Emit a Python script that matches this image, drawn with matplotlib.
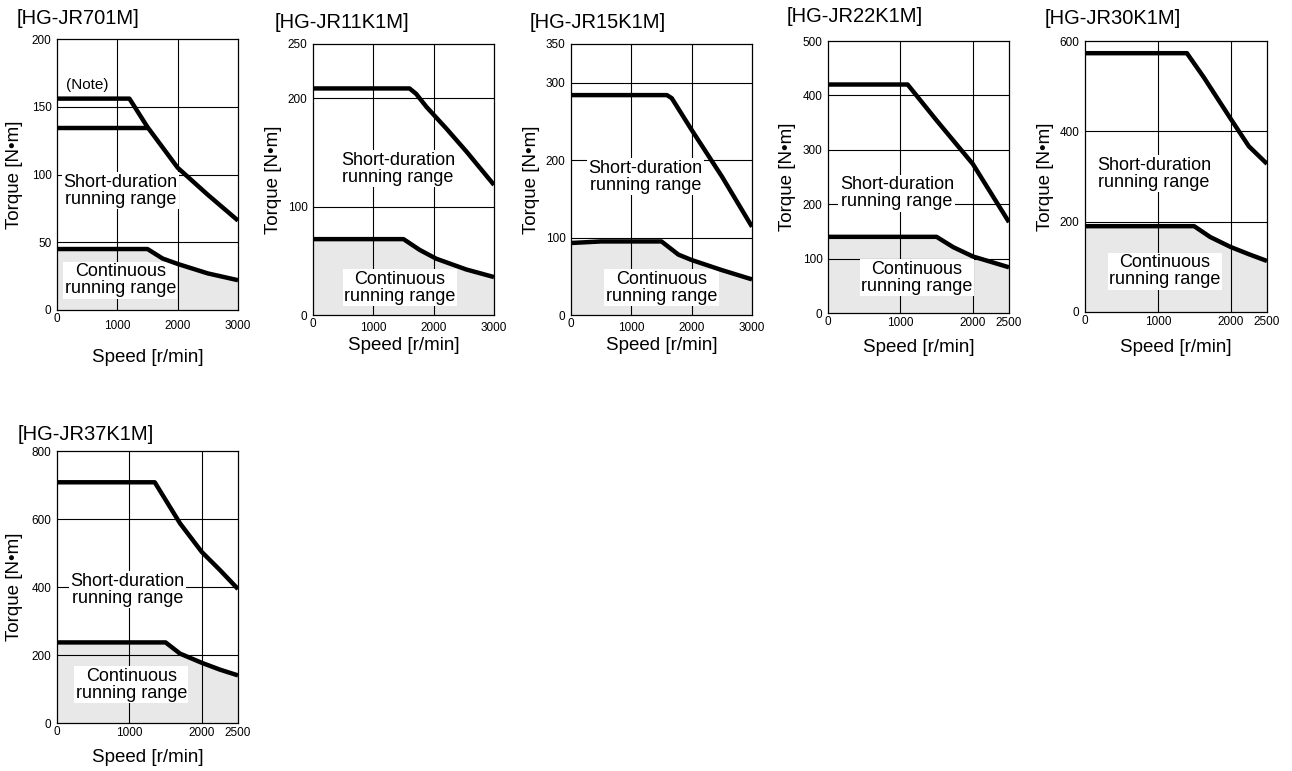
import matplotlib.pyplot as plt

plt.rcParams['font.family'] = ['Liberation Sans', 'DejaVu Sans']

W, H = 1292, 771

# ---- data (speed r/min, torque N*m) ----
titles = ['[HG-JR701M]', '[HG-JR11K1M]', '[HG-JR15K1M]',
          '[HG-JR22K1M]', '[HG-JR30K1M]', '[HG-JR37K1M]']

# HG-JR701M
short_701_x = [0, 1200, 1500, 2000, 2500, 3000]
short_701_y = [156, 156, 135, 105, 85, 66]
short2_701_x = [0, 1500]
short2_701_y = [134, 134]
cont_701_x = [0, 1500, 1750, 2000, 2500, 3000]
cont_701_y = [45, 45, 38, 34, 27, 22]

# HG-JR11K1M
short_11k_x = [0, 1600, 1710, 1880, 2210, 2540, 3000]
short_11k_y = [209, 209, 204, 192, 172, 151, 120]
cont_11k_x = [0, 1500, 1770, 2040, 2540, 3000]
cont_11k_y = [70, 70, 60, 52, 42, 35]

# HG-JR15K1M
short_15k_x = [0, 1590, 1670, 2000, 2500, 3000]
short_15k_y = [284, 284, 280, 239, 179, 114]
cont_15k_x = [0, 500, 1500, 1780, 2000, 2500, 3000]
cont_15k_y = [93, 95, 95, 78, 71, 58, 46]

# HG-JR22K1M
short_22k_x = [0, 1100, 1500, 2000, 2500]
short_22k_y = [420, 420, 354, 274, 167]
cont_22k_x = [0, 1500, 1730, 2000, 2500]
cont_22k_y = [140, 140, 121, 104, 84]

# HG-JR30K1M
short_30k_x = [0, 1400, 1630, 2000, 2250, 2500]
short_30k_y = [573, 573, 520, 428, 367, 328]
cont_30k_x = [0, 1500, 1720, 2000, 2250, 2500]
cont_30k_y = [190, 190, 166, 144, 128, 113]

# HG-JR37K1M
short_37k_x = [0, 1350, 1700, 2000, 2250, 2500]
short_37k_y = [708, 708, 587, 503, 450, 394]
cont_37k_x = [0, 1500, 1700, 2000, 2250, 2500]
cont_37k_y = [237, 237, 204, 177, 157, 140]

xmaxs = [3000, 3000, 3000, 2500, 2500, 2500]
yticks_list = [[0, 50, 100, 150, 200],
               [0, 100, 200, 250],
               [0, 100, 200, 300, 350],
               [0, 100, 200, 300, 400, 500],
               [0, 200, 400, 600],
               [0, 200, 400, 600, 800]]

shorts = [(short_701_x, short_701_y), (short_11k_x, short_11k_y),
          (short_15k_x, short_15k_y), (short_22k_x, short_22k_y),
          (short_30k_x, short_30k_y), (short_37k_x, short_37k_y)]
conts = [(cont_701_x, cont_701_y), (cont_11k_x, cont_11k_y),
         (cont_15k_x, cont_15k_y), (cont_22k_x, cont_22k_y),
         (cont_30k_x, cont_30k_y), (cont_37k_x, cont_37k_y)]

# ---- layout (pixels) ----
# axes box: left, right, top, bottom
boxes = [(57, 238, 39, 310), (313, 494, 44, 315), (571, 752, 44, 315),
         (828, 1009, 41, 313), (1085, 1267, 41, 312), (57, 238, 451, 723)]
title_pos = [(17, 18), (275, 22), (530, 22), (787, 17), (1045, 18), (18, 435)]
xlabel_off = [48, 30, 30, 35, 35, 35]
ylabel_off = [42, 40, 40, 40, 39, 42]
xtick_pad = [7, 5, 5, 3, 3, 3]
# label anchor (axes fraction) for the two range texts
short_txt = [(0.35, 0.44), (0.47, 0.54), (0.41, 0.51), (0.38, 0.44), (0.38, 0.51), (0.39, 0.49)]
cont_txt = [(0.35, 0.11), (0.48, 0.10), (0.50, 0.10), (0.49, 0.13), (0.44, 0.15), (0.41, 0.14)]

fig = plt.figure(figsize=(W / 100, H / 100), dpi=100)

for i in range(6):
    l, r, t, b = boxes[i]
    ax = fig.add_axes([l / W, 1 - b / H, (r - l) / W, (b - t) / H])
    xmax = xmaxs[i]
    yt = yticks_list[i]

    cx, cy = conts[i]
    sx, sy = shorts[i]
    ax.fill_between(cx, cy, 0, color='#e8e8e8', lw=0, zorder=0.5)
    ax.plot(sx, sy, color='black', lw=3.2, solid_capstyle='butt', zorder=4)
    ax.plot(cx, cy, color='black', lw=3.2, solid_capstyle='butt', zorder=4)
    if i == 0:
        ax.plot(short2_701_x, short2_701_y, color='black', lw=3.2,
                solid_capstyle='butt', zorder=4)
        ax.text(0.05, 0.83, '(Note)', transform=ax.transAxes, fontsize=11,
                ha='left', va='center', zorder=3)

    ax.set_xlim(0, xmax)
    ax.set_ylim(0, yt[-1])
    ax.set_xticks(list(range(0, xmax + 1, 1000)) + ([2500] if xmax == 2500 else []))
    ax.set_yticks(yt)
    for xv in range(1000, xmax, 1000):
        ax.axvline(xv, color='black', lw=0.8, zorder=1)
    for yv in yt[1:-1]:
        ax.axhline(yv, color='black', lw=0.8, zorder=1)
    ax.tick_params(length=0, labelsize=8.5)
    ax.tick_params(axis='x', pad=xtick_pad[i])
    ax.tick_params(axis='y', pad=4)
    # the corner "0" sits a little higher than the other speed labels
    ax.xaxis.get_major_ticks()[0].set_pad(2)
    for s in ax.spines.values():
        s.set_linewidth(0.9)

    bb = dict(boxstyle='square,pad=0.08', fc='white', ec='none')
    ax.text(*short_txt[i], 'Short-duration\nrunning range', transform=ax.transAxes,
            fontsize=13, ha='center', va='center', linespacing=1.0, bbox=bb, zorder=2)
    ax.text(*cont_txt[i], 'Continuous\nrunning range', transform=ax.transAxes,
            fontsize=13, ha='center', va='center', linespacing=1.0, bbox=bb, zorder=2)

    ax.set_xlabel('Speed [r/min]', fontsize=13.5)
    ax.set_ylabel('Torque [N•m]', fontsize=13.5)
    ax.xaxis.set_label_coords(0.5, -xlabel_off[i] / (b - t))
    ax.xaxis.label.set_va('center')
    ax.yaxis.set_label_coords(-ylabel_off[i] / (r - l), 0.5)
    ax.yaxis.label.set_va('center')

    tx, ty = title_pos[i]
    fig.text(tx / W, 1 - ty / H, titles[i], fontsize=14.5, ha='left', va='center')

fig.savefig('out.png', dpi=100)
